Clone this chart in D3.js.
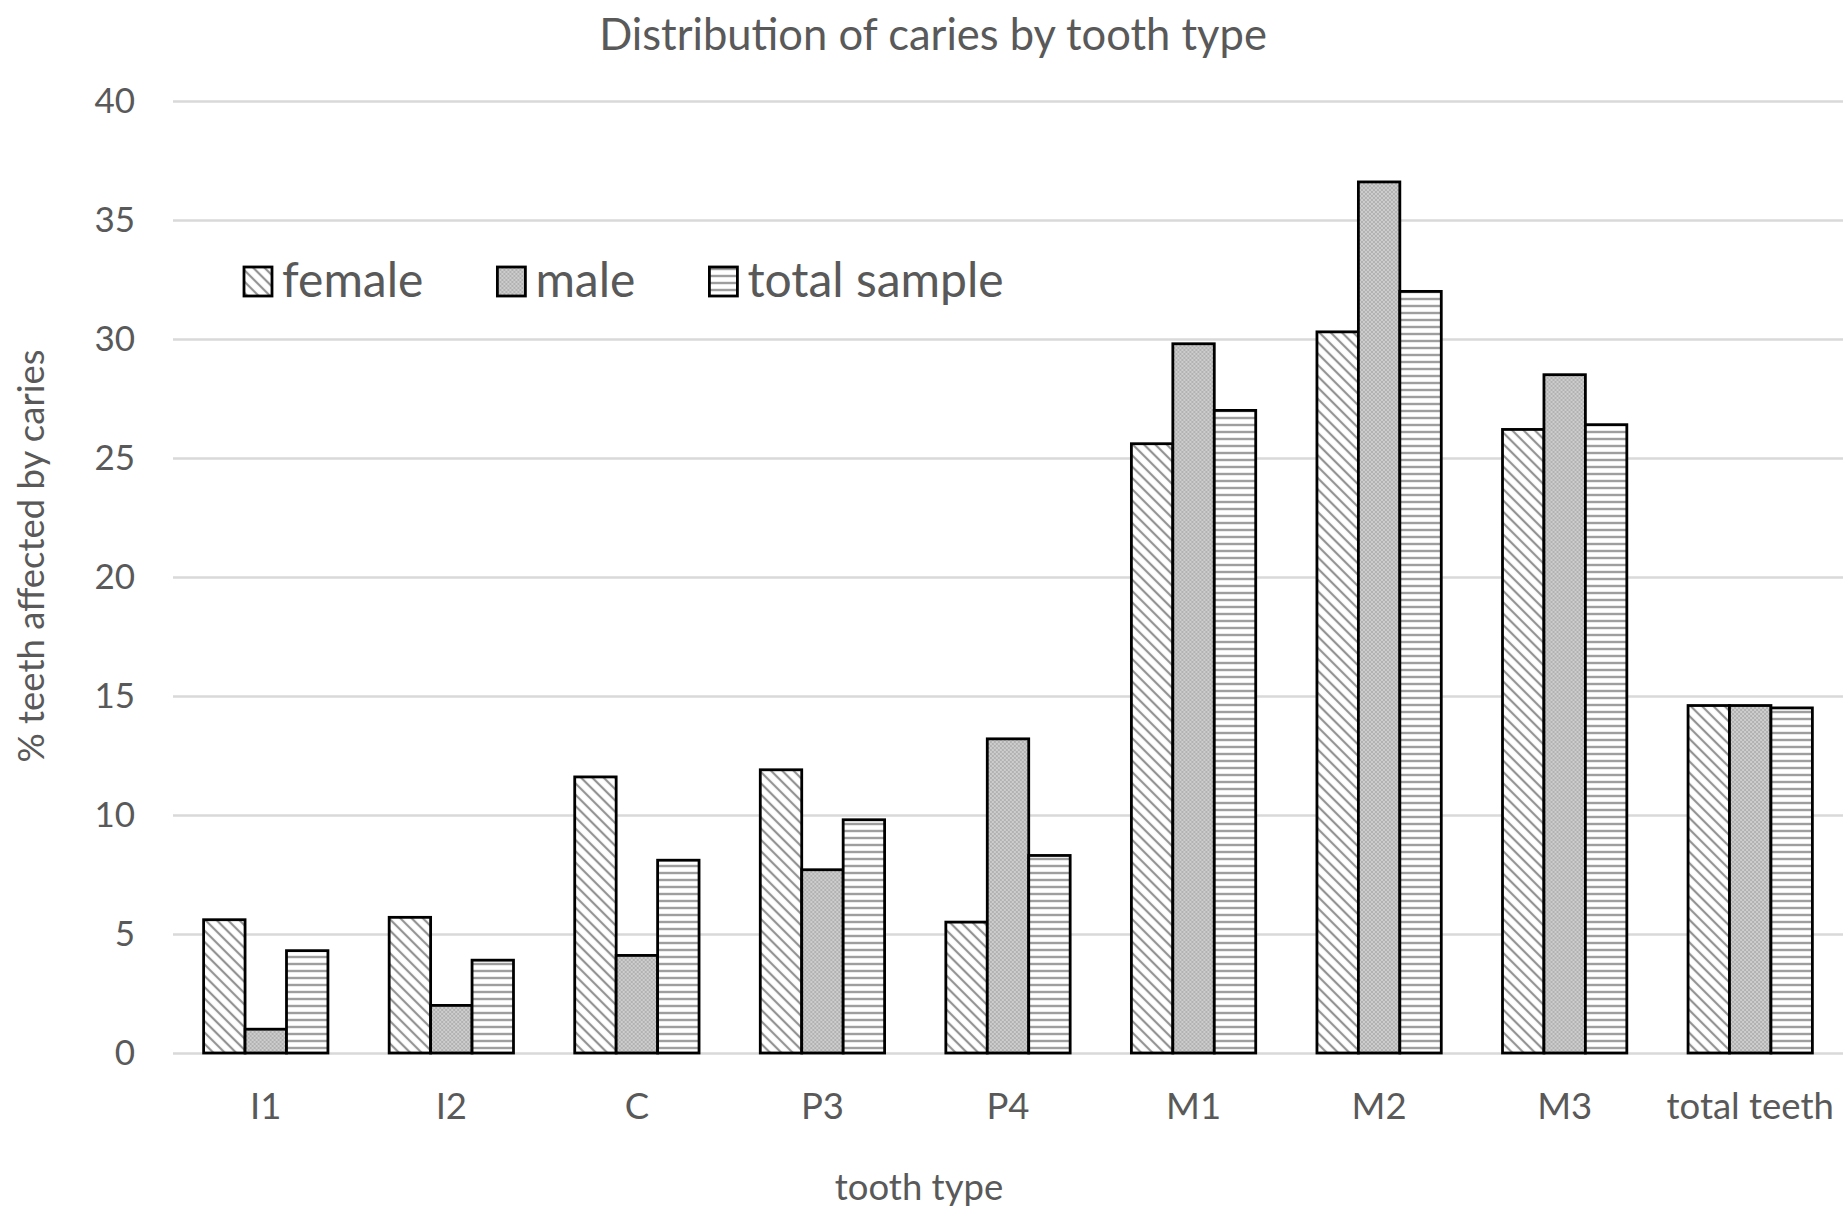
<!DOCTYPE html>
<html>
<head>
<meta charset="utf-8">
<script src="https://cdn.jsdelivr.net/npm/d3@7"></script>
<style>
  body { margin: 0; background: #fff; }
  svg text { font-family: Lato, "Open Sans", sans-serif; fill: #595959; }
</style>
</head>
<body>
<script>
    // chart data
    var toothTypes = ["I1", "I2", "C", "P3", "P4", "M1", "M2", "M3", "total teeth"];
    var seriesNames = ["female", "male", "total sample"];
    var femaleValues = [5.6, 5.7, 11.6, 11.9, 5.5, 25.6, 30.3, 26.2, 14.6];
    var maleValues = [1.0, 2.0, 4.1, 7.7, 13.2, 29.8, 36.6, 28.5, 14.6];
    var totalValues = [4.3, 3.9, 8.1, 9.8, 8.3, 27.0, 32.0, 26.4, 14.5];
    var yTicks = [0, 5, 10, 15, 20, 25, 30, 35, 40];

    var seriesValues = [femaleValues, maleValues, totalValues];
    var patternIds = ["pat-female", "pat-male", "pat-total"];

    var W = 1845, H = 1211;
    var margin = {top: 101, right: 2, bottom: 158, left: 173};
    var width = W - margin.left - margin.right;
    var height = H - margin.top - margin.bottom;

    var svg = d3.select("body").append("svg")
                .attr("width", W)
                .attr("height", H);

    // fill patterns
    var defs = svg.append("defs");

    var pf = defs.append("pattern")
        .attr("id", "pat-female")
        .attr("patternUnits", "userSpaceOnUse")
        .attr("width", 8).attr("height", 8)
        .attr("patternTransform", "rotate(45)");
    pf.append("rect").attr("width", 8).attr("height", 8).attr("fill", "#fff");
    pf.append("line").attr("x1", 0).attr("x2", 8).attr("y1", 2).attr("y2", 2)
        .attr("stroke", "#939393").attr("stroke-width", 2.2);

    var pm = defs.append("pattern")
        .attr("id", "pat-male")
        .attr("patternUnits", "userSpaceOnUse")
        .attr("width", 4).attr("height", 4);
    pm.append("rect").attr("width", 4).attr("height", 4).attr("fill", "#cdcdcd");
    pm.append("rect").attr("width", 2).attr("height", 2).attr("fill", "#b2b2b2");
    pm.append("rect").attr("x", 2).attr("y", 2).attr("width", 2).attr("height", 2).attr("fill", "#b2b2b2");

    var pt = defs.append("pattern")
        .attr("id", "pat-total")
        .attr("patternUnits", "userSpaceOnUse")
        .attr("width", 7).attr("height", 7);
    pt.append("rect").attr("width", 7).attr("height", 7).attr("fill", "#fff");
    pt.append("line").attr("x1", 0).attr("x2", 7).attr("y1", 2).attr("y2", 2)
        .attr("stroke", "#9e9e9e").attr("stroke-width", 2.4);

    // scales
    var x0 = d3.scaleBand().domain(toothTypes).range([0, width])
               .paddingInner(0.33).paddingOuter(0.165);
    var x1 = d3.scaleBand().domain(seriesNames).range([0, x0.bandwidth()]);
    var y = d3.scaleLinear().domain([0, 40]).range([height, 0]);

    var g = svg.append("g")
        .attr("transform", "translate(" + margin.left + "," + margin.top + ")");

    // y axis with gridlines
    var yAxis = g.append("g")
        .attr("class", "y axis")
        .call(d3.axisLeft(y).tickValues(yTicks).tickSize(-width).tickPadding(38));
    yAxis.select(".domain").remove();
    yAxis.selectAll(".tick line").attr("stroke", "#d9d9d9").attr("stroke-width", 2.5);
    yAxis.selectAll(".tick text").style("font-size", "35px");

    // x axis
    var xAxis = g.append("g")
        .attr("class", "x axis")
        .attr("transform", "translate(0," + height + ")")
        .call(d3.axisBottom(x0).tickSize(0).tickPadding(40));
    xAxis.select(".domain").remove();
    xAxis.selectAll(".tick text").style("font-size", "36.5px");

    // bars
    var groups = g.selectAll(".group")
        .data(toothTypes)
        .enter().append("g")
        .attr("class", "group")
        .attr("transform", function (d) { return "translate(" + x0(d) + ",0)"; });

    groups.selectAll("rect")
        .data(function (d, i) {
            return seriesNames.map(function (s, j) {
                return {series: s, idx: j, value: seriesValues[j][i]};
            });
        })
        .enter().append("rect")
        .attr("x", function (d) { return x1(d.series); })
        .attr("y", function (d) { return y(d.value); })
        .attr("width", x1.bandwidth())
        .attr("height", function (d) { return height - y(d.value); })
        .attr("fill", function (d) { return "url(#" + patternIds[d.idx] + ")"; })
        .attr("stroke", "#000")
        .attr("stroke-width", 2.8);

    // title and axis titles
    svg.append("text")
        .attr("x", 933).attr("y", 50)
        .attr("text-anchor", "middle")
        .style("font-size", "43.5px")
        .text("Distribution of caries by tooth type");

    svg.append("text")
        .attr("x", 919).attr("y", 1200)
        .attr("text-anchor", "middle")
        .style("font-size", "36.5px")
        .text("tooth type");

    svg.append("text")
        .attr("transform", "translate(44,556) rotate(-90)")
        .attr("text-anchor", "middle")
        .style("font-size", "36.5px")
        .text("% teeth affected by caries");

    // legend
    var legend = svg.append("g").attr("transform", "translate(244,267)");
    var lx = 0;
    seriesNames.forEach(function (s, j) {
        var item = legend.append("g").attr("transform", "translate(" + lx + ",0)");
        item.append("rect")
            .attr("width", 28).attr("height", 29)
            .attr("fill", "url(#" + patternIds[j] + ")")
            .attr("stroke", "#000").attr("stroke-width", 2.8);
        var t = item.append("text")
            .attr("x", 38).attr("y", 30)
            .style("font-size", "48px")
            .text(s);
        lx += 38 + t.node().getComputedTextLength() + 74;
    });
</script>
</body>
</html>
